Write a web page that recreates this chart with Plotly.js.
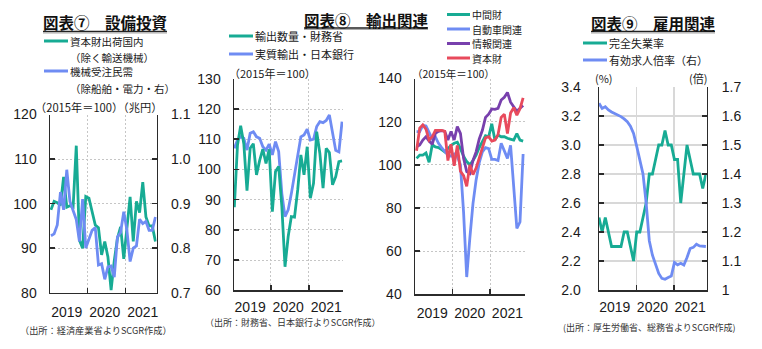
<!DOCTYPE html>
<html><head><meta charset="utf-8">
<script src="https://cdn.plot.ly/plotly-3.0.1.min.js"></script>
<style>html,body{margin:0;padding:0;background:#fff;}#chart{width:762px;height:349px;}</style>
</head><body><div id="chart"></div>
<script>
const W = 762, H = 349;

// ---------- data ----------
const years = ['2019', '2020', '2021'];

// 図表⑦ 設備投資
const capGoodsShipments = [98.6,100.5,100.2,99.6,106.0,99.2,99.5,99.2,113.0,91.8,90.0,101.6,101.2,98.0,95.2,94.6,88.5,91.5,88.0,80.6,87.2,92.2,94.8,87.6,94.5,101.5,91.5,100.5,98.0,104.8,97.0,95.0,95.0,91.5];
const machineryOrders = [0.828,0.832,0.852,0.926,0.886,0.976,0.905,0.882,0.864,0.815,0.910,0.800,0.820,0.840,0.846,0.762,0.765,0.730,0.758,0.760,0.735,0.825,0.835,0.882,0.840,0.770,0.800,0.805,0.865,0.855,0.860,0.840,0.840,0.870];

// 図表⑧ 輸出関連 (左)
const exportVolume = [87.5,108.0,114.5,108.5,93.0,107.0,108.5,98.2,103.0,106.7,102.0,106.7,86.0,99.3,101.0,87.7,67.8,77.8,84.4,84.2,93.2,104.8,98.2,107.5,90.5,95.4,112.5,105.3,93.8,107.0,105.6,94.9,97.6,102.6,102.8];
const realExports = [107.0,109.7,110.8,110.3,106.4,112.0,112.5,110.8,110.3,107.5,106.4,108.4,104.8,109.2,105.9,92.0,84.4,86.6,92.0,98.7,104.8,110.8,111.4,113.3,109.7,110.0,114.2,115.8,115.5,116.2,118.0,112.0,106.3,105.8,115.8];

// 図表⑧ 輸出関連 (右)
const intermediateGoods = [103.0,104.5,104.5,105.5,101.2,109.3,108.3,108.0,107.0,106.0,107.5,109.0,110.0,110.5,107.5,104.0,101.5,100.0,102.0,104.5,108.0,110.7,113.5,113.0,119.0,111.5,113.8,113.0,113.0,112.3,112.0,111.5,114.5,111.5,111.0];
const autoRelated = [115.4,115.4,118.3,118.0,115.0,112.0,113.0,110.0,108.0,106.0,104.5,104.0,105.0,104.0,100.0,78.0,48.0,66.0,82.0,93.0,101.0,106.0,108.0,107.5,102.5,102.5,102.0,110.0,106.5,103.0,109.0,91.0,70.5,73.5,105.0];
const infoRelated = [108.4,109.2,111.5,113.0,111.0,109.5,114.6,115.5,115.8,115.5,111.5,115.5,111.5,117.7,114.6,103.0,96.9,96.0,102.0,106.0,112.0,116.0,122.0,123.5,125.9,125.7,126.2,130.0,131.3,133.5,129.0,127.0,124.8,126.2,127.5];
const capitalGoods = [106.5,117.0,118.5,116.5,111.5,113.0,116.0,116.0,116.0,115.5,102.0,109.5,99.5,109.0,97.0,95.0,90.0,100.0,95.5,98.5,103.0,107.7,112.5,113.0,111.0,111.5,114.0,122.0,123.5,114.5,124.0,126.5,123.0,126.0,131.0];

// 図表⑨ 雇用関連
const unemploymentRate = [2.5,2.4,2.5,2.4,2.3,2.3,2.3,2.3,2.4,2.4,2.3,2.2,2.4,2.4,2.5,2.6,2.8,2.8,2.9,3.0,3.0,3.1,3.0,3.0,2.9,2.9,2.6,2.8,3.0,2.9,2.8,2.8,2.8,2.7,2.8];
const jobsRatio = [1.644,1.626,1.632,1.621,1.614,1.609,1.605,1.598,1.590,1.580,1.565,1.540,1.495,1.445,1.400,1.300,1.170,1.120,1.090,1.057,1.040,1.037,1.043,1.048,1.095,1.087,1.092,1.086,1.112,1.143,1.147,1.158,1.152,1.152,1.150];

// legend labels
const p3Names = ['中間財', '自動車関連', '情報関連', '資本財'];

// tick values
const p1LeftTicks = [80, 90, 100, 110, 120];
const p1RightTicks = [0.7, 0.8, 0.9, 1.0, 1.1];
const p2Ticks = [60, 70, 80, 90, 100, 110, 120, 130];
const p3Ticks = [40, 60, 80, 100, 120, 140];
const p4LeftTicks = [2.0, 2.2, 2.4, 2.6, 2.8, 3.0, 3.2, 3.4];
const p4RightTicks = [1.0, 1.1, 1.2, 1.3, 1.4, 1.5, 1.6, 1.7];

// ---------- styling ----------
const C = {green: '#17ab94', blue: '#6f8cf3', purple: '#7840ad', red: '#e84a5c'};
const AX = '#2b2b2b';
const NUM_FONT = 'Liberation Sans, Arial, sans-serif';
const JP_FONT = 'Noto Sans CJK JP, sans-serif';
const tickFont = {family: NUM_FONT, size: 14, color: '#1a1a1a'};
const LW = 2.8;

const px = v => v / W;
const py = v => 1 - v / H;
const idx = a => a.map((_, i) => i);

// panel pixel boxes
const P1 = {x0: 50, x1: 156.7, top: 114.5, bot: 292.7};
const P2 = {x0: 234, x1: 343, top: 78.8, bot: 290.3};
const P3 = {x0: 415, x1: 525, top: 78.5, bot: 294.3};
const P4 = {x0: 599, x1: 706.5, top: 87, bot: 290};

const dotGrid = {gridcolor: '#c6c6c6', griddash: '2px,2px', gridwidth: 1};
const solidGrid = {gridcolor: '#d8d8d8', griddash: 'solid', gridwidth: 1.3};

function xAx(p, range, shift, anchor, grid, standoff) {
  return {
    domain: [px(p.x0), px(p.x1)], range: range, anchor: anchor,
    tickmode: 'array', tickvals: years.map((_, k) => 12 * k + 5), ticktext: years,
    ticks: '', showgrid: false, zeroline: false,
    showline: true, linecolor: AX, linewidth: 1.5,
    tickfont: tickFont, ticklabelstandoff: standoff, fixedrange: true,
    minor: Object.assign({tickmode: 'array', tickvals: [12 + shift, 24 + shift], showgrid: true,
      ticks: 'inside', ticklen: 5, tickcolor: AX, tickwidth: 1.5}, grid)
  };
}
function yAx(p, range, tickvals, anchor, grid, extra) {
  const o = {
    domain: [py(p.bot), py(p.top)], range: range, anchor: anchor,
    tickmode: 'array', tickvals: tickvals,
    ticks: 'inside', ticklen: 5, tickcolor: AX, tickwidth: 1.5,
    showline: true, linecolor: AX, linewidth: 1.5, zeroline: false,
    showgrid: !!grid, tickfont: tickFont, ticklabelstandoff: 9, fixedrange: true
  };
  if (grid) Object.assign(o, grid);
  return Object.assign(o, extra || {});
}

// ---------- traces ----------
const line = (x, y, xa, ya, color) => ({x: x, y: y, xaxis: xa, yaxis: ya, type: 'scatter', mode: 'lines',
  line: {color: color, width: LW}, hoverinfo: 'skip'});

const data = [
  line(idx(capGoodsShipments), capGoodsShipments, 'x', 'y', C.green),
  line(idx(machineryOrders), machineryOrders, 'x', 'y2', C.blue),
  line(idx(realExports), realExports, 'x2', 'y3', C.blue),
  line(idx(exportVolume), exportVolume, 'x2', 'y3', C.green),
  line(idx(intermediateGoods), intermediateGoods, 'x3', 'y4', C.green),
  line(idx(autoRelated), autoRelated, 'x3', 'y4', C.blue),
  line(idx(infoRelated), infoRelated, 'x3', 'y4', C.purple),
  line(idx(capitalGoods), capitalGoods, 'x3', 'y4', C.red),
  line(idx(unemploymentRate), unemploymentRate, 'x4', 'y5', C.green),
  line(idx(jobsRatio), jobsRatio, 'x4', 'y6', C.blue)
];

// ---------- annotations / shapes ----------
function ann(text, x, y, opt) {
  opt = opt || {};
  const a = {xref: 'paper', yref: 'paper', x: px(x), y: py(y), text: text, showarrow: false,
    xanchor: opt.xa || 'left', yanchor: 'middle', align: 'left',
    font: {family: opt.family || JP_FONT, size: opt.size || 11, color: opt.color || '#1a1a1a'}};
  if (opt.h) a.height = opt.h;
  return a;
}
function seg(x0, x1, y, color, w) {
  return {type: 'line', xref: 'paper', yref: 'paper', x0: px(x0), x1: px(x1), y0: py(y), y1: py(y),
    line: {color: color, width: w || 3}};
}

// panel 3 legend rows
const P3_LEG_TOP = 14.5, P3_PITCH = 14.5;
const p3Colors = [C.green, C.blue, C.purple, C.red];

const annotations = [
  // titles
  ann('<b>図表⑦　設備投資</b>', 105, 22.5, {xa: 'center', size: 15.5, color: '#111'}),
  ann('<b>図表⑧　輸出関連</b>', 366, 19.5, {xa: 'center', size: 15.5, color: '#111'}),
  ann('<b>図表⑨　雇用関連</b>', 653, 23, {xa: 'center', size: 15.5, color: '#111'}),
  // panel 1 legend
  ann('資本財出荷国内', 68, 41, {size: 10.5, h: 12}),
  ann('（除く輸送機械）', 68, 57, {size: 10.5, h: 12}),
  ann('機械受注民需', 68, 71, {size: 10.5, h: 12}),
  ann('（除船舶・電力・右）', 68, 88, {size: 10.5, h: 12}),
  ann('（2015年＝100）（兆円）', 33, 106, {size: 11.2, h: 13}),
  // panel 2 legend
  ann('輸出数量・財務省', 253, 36),
  ann('実質輸出・日本銀行', 253, 54),
  ann('（2015年＝100）', 227, 73),
  // panel 3 legend
  ...p3Names.map((n, i) => ann(n, 470, P3_LEG_TOP + i * P3_PITCH, {size: 10})),
  ann('（2015年＝100）', 410, 73, {size: 10.5}),
  // panel 4 legend
  ann('完全失業率', 607, 43),
  ann('有効求人倍率（右）', 607, 60),
  ann('(%)', 593, 78),
  ann('(倍)', 709, 78, {xa: 'right'}),
  // sources
  ann('（出所：経済産業省よりSCGR作成）', 18, 330, {size: 9.2, color: '#333'}),
  ann('（出所：財務省、日本銀行よりSCGR作成）', 203, 322.5, {size: 9, color: '#333'}),
  ann('(出所：厚生労働省、総務省よりSCGR作成)', 561, 327.5, {size: 9, color: '#333'})
];

const shapes = [
  // title underlines
  seg(43, 167, 31.5, '#222', 1.6), seg(43, 167, 33, '#aaa', 1.2),
  seg(304, 428, 28, '#222', 1.6), seg(304, 428, 29.5, '#aaa', 1.2),
  seg(591, 715, 31.5, '#222', 1.6), seg(591, 715, 33, '#aaa', 1.2),
  // legend samples
  seg(44, 68, 41, C.green), seg(44, 68, 71, C.blue),
  seg(229, 253, 36, C.green), seg(229, 253, 54, C.blue),
  seg(583, 607, 43, C.green), seg(583, 607, 60, C.blue)
].concat(p3Colors.map((c, i) => seg(447, 470, P3_LEG_TOP + i * P3_PITCH, c)));

const layout = {
  width: W, height: H, margin: {l: 0, r: 0, t: 0, b: 0},
  paper_bgcolor: '#ffffff', plot_bgcolor: 'rgba(0,0,0,0)', showlegend: false,
  font: {family: NUM_FONT},
  xaxis: xAx(P1, [-0.3, 33.4], -0.5, 'y', dotGrid, 6),
  yaxis: yAx(P1, [80, 120], p1LeftTicks, 'x', dotGrid),
  yaxis2: yAx(P1, [0.7, 1.1], p1RightTicks, 'x', null, {overlaying: 'y', side: 'right', tickformat: '.1f', ticklabelstandoff: 10}),
  xaxis2: xAx(P2, [-0.1, 34.3], -0.5, 'y3', dotGrid, 3),
  yaxis3: yAx(P2, [60, 130], p2Ticks, 'x2', dotGrid),
  xaxis3: xAx(P3, [-0.5, 34.6], -0.5, 'y4', dotGrid, 5),
  yaxis4: yAx(P3, [40, 140], p3Ticks, 'x3', dotGrid),
  xaxis4: xAx(P4, [0, 34.2], -0.1, 'y5', solidGrid, 4),
  yaxis5: yAx(P4, [2.0, 3.4], p4LeftTicks, 'x4', solidGrid, {tickformat: '.1f', ticklabelstandoff: 14}),
  yaxis6: yAx(P4, [1.0, 1.7], p4RightTicks, 'x4', null, {overlaying: 'y5', side: 'right', ticklabelstandoff: 11}),
  annotations: annotations,
  shapes: shapes
};

Plotly.newPlot('chart', data, layout, {displayModeBar: false, staticPlot: true});
</script>
</body></html>
